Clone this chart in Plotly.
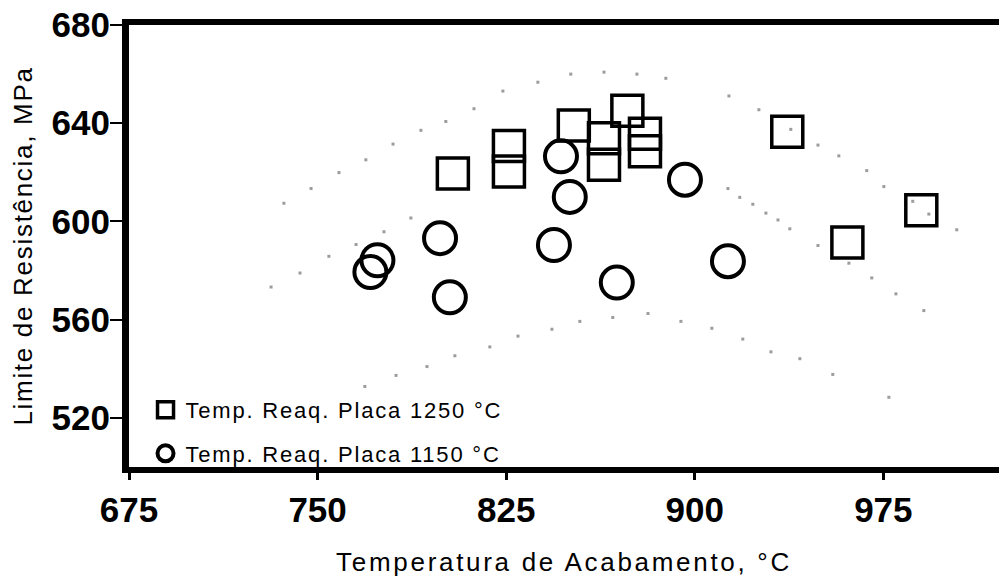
import plotly.graph_objects as go

# --- data ---
# Temp. Reaq. Placa 1250 °C  (open squares)
sq_temp = [803.8, 826.1, 826.1, 851.9, 873.2, 863.9, 863.9, 880.2, 880.2, 936.8, 960.7, 990.1]
sq_lr = [619.5, 630.7, 620.3, 639.1, 645.1, 633.9, 623.1, 635.7, 628.6, 636.5, 591.4, 604.6]

# Temp. Reaq. Placa 1150 °C  (open circles)
ci_temp = [846.8, 850.3, 896.1, 798.7, 844.0, 802.6, 869.0, 773.8, 771.0, 913.2]
ci_lr = [626.5, 610.0, 617.0, 593.2, 590.4, 569.1, 575.1, 584.2, 579.4, 583.8]

# dotted grey curves (upper band, middle curve, lower band)
up_temp = [736.6, 747.4, 758.5, 769.2, 780.0, 791.1, 801.0, 812.2, 823.7, 837.6, 850.7, 863.9,
           877.0, 888.5, 913.6, 925.5, 938.2, 949.0, 957.3, 968.4, 975.2, 986.7, 993.1, 1004.2]
up_lr = [607.4, 613.4, 619.9, 625.1, 631.5, 637.1, 640.7, 645.9, 653.1, 656.7, 660.0, 660.8,
         660.0, 658.3, 651.1, 645.5, 637.5, 631.1, 626.7, 620.7, 614.2, 608.2, 603.0, 596.6]

mid_temp = [731.5, 743.0, 754.5, 765.3, 776.4, 787.1, 913.2, 917.9, 923.1, 928.3, 933.1, 937.8,
            949.0, 961.3, 970.4, 980.0, 991.1]
mid_lr = [573.3, 579.0, 585.8, 590.6, 595.8, 601.4, 613.4, 609.8, 607.0, 603.4, 600.6, 597.0,
          590.2, 583.0, 577.0, 570.5, 563.7]

low_temp = [768.8, 781.2, 793.5, 804.6, 818.5, 829.7, 843.2, 854.3, 867.4, 881.4, 894.5, 906.8,
            919.1, 930.3, 941.8, 954.9, 977.2]
low_lr = [532.8, 537.3, 540.9, 545.3, 548.9, 553.3, 556.1, 559.3, 560.9, 562.5, 559.3, 556.5,
          552.1, 546.9, 544.1, 537.7, 528.4]

x_ticks = [675, 750, 825, 900, 975]
y_ticks = [520, 560, 600, 640, 680]

FONT = "Liberation Sans, Arial, sans-serif"

fig = go.Figure()

for xs, ys in [(up_temp, up_lr), (mid_temp, mid_lr), (low_temp, low_lr)]:
    fig.add_trace(go.Scatter(
        x=xs, y=ys, mode="markers", showlegend=False, hoverinfo="skip",
        marker=dict(symbol="square", size=3, color="#9c9c9c", line=dict(width=0)),
    ))

fig.add_trace(go.Scatter(
    x=sq_temp, y=sq_lr, mode="markers",
    name='<span style="letter-spacing:1.8px">Temp. Reaq. Placa 1250 °C</span>',
    legendgroup="a",
    marker=dict(symbol="square-open", size=31, color="black", line=dict(width=3.5, color="black")),
))
fig.add_trace(go.Scatter(
    x=ci_temp, y=ci_lr, mode="markers",
    name='<span style="letter-spacing:1.8px">Temp. Reaq. Placa 1150 °C</span>',
    legendgroup="b",
    marker=dict(symbol="circle-open", size=32, color="black", line=dict(width=4, color="black")),
))

fig.update_layout(
    width=999, height=577,
    margin=dict(l=129, r=0, t=25, b=103),
    paper_bgcolor="white", plot_bgcolor="white",
    font=dict(family=FONT, color="black"),
    showlegend=True,
    legend=dict(
        x=0.019, xanchor="left", y=-0.018, yanchor="bottom",
        bgcolor="rgba(0,0,0,0)", borderwidth=0,
        font=dict(family=FONT, size=22, color="black"),
        tracegroupgap=12, traceorder="grouped",
    ),
    xaxis=dict(
        range=[675, 1021], tickvals=x_ticks, ticktext=[str(v) for v in x_ticks],
        showline=True, linewidth=6, linecolor="black", mirror=True,
        ticks="outside", ticklen=7, tickwidth=3, tickcolor="black",
        tickfont=dict(family=FONT, size=35, weight="bold", color="black"),
        showgrid=False, zeroline=False,
        title=dict(text='<span style="letter-spacing:2.7px">Temperatura de Acabamento, °C</span>',
                   font=dict(family=FONT, size=26, color="black"), standoff=30),
    ),
    yaxis=dict(
        range=[500, 680], tickvals=y_ticks, ticktext=[str(v) for v in y_ticks],
        showline=True, linewidth=7, linecolor="black", mirror=False,
        ticks="outside", ticklen=12, tickwidth=2, tickcolor="black",
        ticklabelstandoff=-7,
        tickfont=dict(family=FONT, size=35, weight="bold", color="black"),
        showgrid=False, zeroline=False,
        title=dict(text='<span style="letter-spacing:1.7px">Limite de Resistência, MPa</span>',
                   font=dict(family=FONT, size=26, color="black"), standoff=14),
    ),
)

fig.write_html("out.html", config={"displayModeBar": False},
               post_script="document.body.style.margin='0';")
